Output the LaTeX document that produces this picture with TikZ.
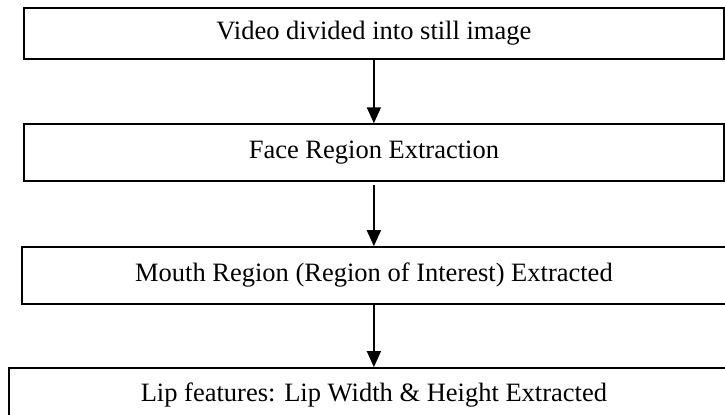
\documentclass[tikz,border=0pt]{standalone}
\usepackage{fontspec}
\setmainfont{Liberation Serif}
\usetikzlibrary{arrows.meta}

\begin{document}
\begin{tikzpicture}
 \tikzstyle{etape}=[rectangle,draw,line width=0.8pt,text=black,inner sep=0pt,
   font=\fontsize{13.25}{15}\selectfont]
 \tikzstyle{suite}=[-{Triangle[width=7pt,length=8pt]},line width=0.8pt]
 \clip (0,0) rectangle (12.74,7.29);
 \node[etape,minimum width=12.30cm,minimum height=0.90cm] (E1) at (6.57,6.70) {Video divided into still image};
 \node[etape,minimum width=12.30cm,minimum height=1.00cm] (E2) at (6.57,4.61) {Face Region Extraction};
 \node[etape,minimum width=12.37cm,minimum height=1.00cm] (E3) at (6.57,2.45) {Mouth Region (Region of Interest) Extracted};
 \node[etape,minimum width=12.83cm,minimum height=0.95cm] (E4) at (6.57,0.35) {Lip features: Lip Width \& Height Extracted};
 \draw[suite] (E1)--(E2);
 \draw[suite,shorten <=1.5pt] (E2)--(E3);
 \draw[suite] (E3)--(E4);
\end{tikzpicture}
\end{document}
